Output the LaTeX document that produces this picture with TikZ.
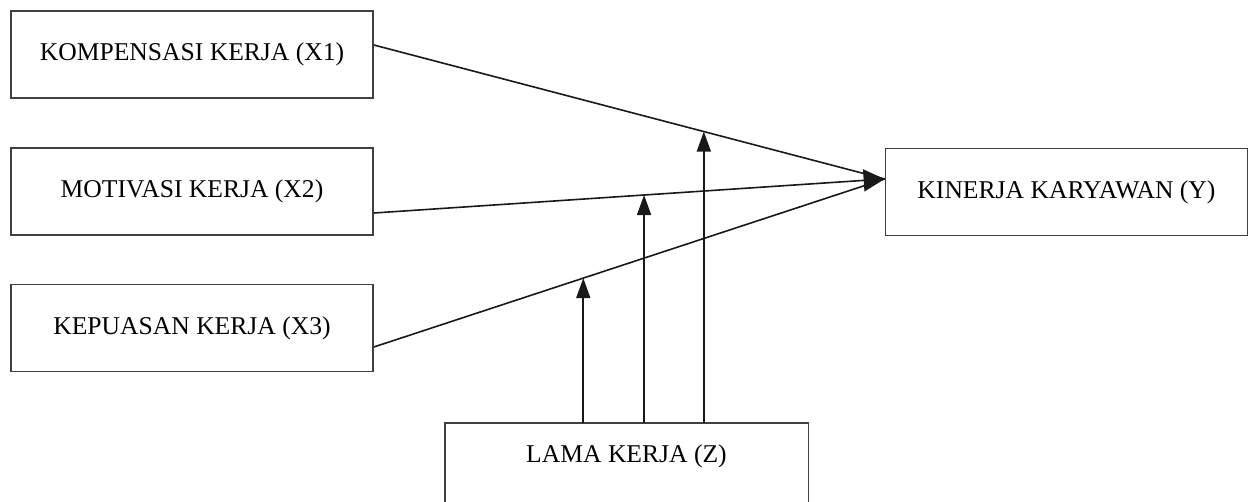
\documentclass[tikz,border=0pt]{standalone}
\usepackage{fontspec}
\setmainfont{Liberation Serif}
\usetikzlibrary{arrows.meta,calc}
\begin{document}
\begin{tikzpicture}[x=0.5pt,y=-0.5pt,
  boxline/.style={draw=black!75, line width=0.85pt},
  varbox/.style={boxline, fill=white, minimum width=181pt, minimum height=43.5pt,
    inner sep=0pt, font=\fontsize{12.8}{15}\selectfont},
  link/.style={line width=0.8pt, draw=black!90},
  effect/.style={link, -{Triangle[length=10.5pt,width=11pt]}},
  moderate/.style={link, -{Triangle[length=10pt,width=7pt]}}]
\useasboundingbox (0,0) rectangle (1249,502);
\clip (0,0) rectangle (1249,502);

% independent variables
\node[varbox] (x1) at (192,54.5) {KOMPENSASI KERJA (X1)};
\node[varbox] (x2) at (192,191.5) {MOTIVASI KERJA (X2)};
\node[varbox] (x3) at (192,328) {KEPUASAN KERJA (X3)};

% dependent variable
\node[varbox] (y) at (1066.5,192) {KINERJA KARYAWAN (Y)};

% moderating variable, its box runs past the lower edge
\node[varbox, draw=none, fill=none, minimum height=32pt, anchor=north] (z) at (626.5,423) {LAMA KERJA (Z)};
\draw[boxline] (z.north east) rectangle ([yshift=-20pt]z.south west);

% paths into Y
\coordinate (t) at ([yshift=6.5pt]y.west);
\draw[link] ([yshift=4.75pt]x1.east) -- coordinate[pos=0.646] (m1) (t);
\draw[effect] ([yshift=-10.75pt]x2.east) -- coordinate[pos=0.529] (m2) (t);
\draw[link] ([yshift=-9.5pt]x3.east) -- coordinate[pos=0.41] (m3) (t);

% moderating effects
\draw[moderate] (z.north -| m3) -- (m3);
\draw[moderate] (z.north -| m2) -- (m2);
\draw[moderate] (z.north -| m1) -- (m1);
\end{tikzpicture}
\end{document}
